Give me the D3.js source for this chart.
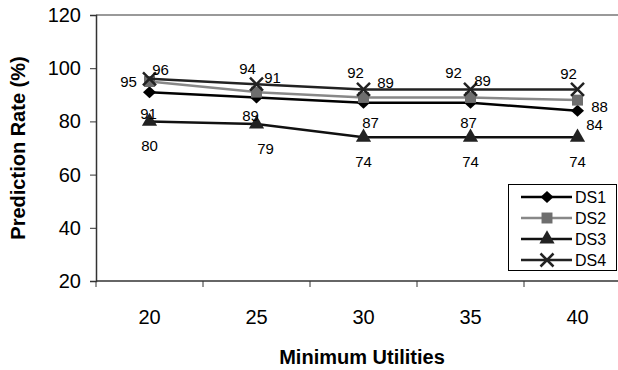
<!DOCTYPE html>
<html lang="en">
<head>
    <meta charset="UTF-8">
    <title>Prediction Rate vs Minimum Utilities</title>
    <script src="https://d3js.org/d3.v7.min.js"></script>
    <style>
        body {
            margin: 0;
            background: #fff;
            font-family: Arial, "Liberation Sans", sans-serif;
        }
        text {
            font-family: Arial, "Liberation Sans", sans-serif;
            fill: #000;
        }
        .tick-label { font-size: 20px; }
        .axis-title { font-size: 20px; font-weight: bold; }
        .data-label { font-size: 15px; }
        .legend-label { font-size: 16px; }
    </style>
</head>
<body>
    <svg width="618" height="370"></svg>

    <script>
        // data
        var categories = ["20", "25", "30", "35", "40"];
        var seriesNames = ["DS1", "DS2", "DS3", "DS4"];
        var ds1 = [91, 89, 87, 87, 84];
        var ds2 = [95, 91, 89, 89, 88];
        var ds3 = [80, 79, 74, 74, 74];
        var ds4 = [96, 94, 92, 92, 92];
        var yTicks = [20, 40, 60, 80, 100, 120];

        // styling per series
        var styles = {
            DS1: { line: "#000", fill: "#000", symbol: "diamond" },
            DS2: { line: "#888", fill: "#6e6e6e", symbol: "square" },
            DS3: { line: "#111", fill: "#222", symbol: "triangle" },
            DS4: { line: "#222", fill: "#222", symbol: "cross" }
        };

        // label offsets (dx, dy) around each point, the way the original was laid out
        var labelOffsets = {
            DS1: [[-1, 21], [-6, 18], [7, 20], [-2, 20], [17, 14]],
            DS2: [[-21, 0], [16, -15], [22, -15], [12, -17], [22, 6]],
            DS3: [[0, 24], [9, 24], [0, 24], [0, 24], [0, 24]],
            DS4: [[11, -9], [-9, -16], [-8, -17], [-17, -17], [-9, -16]]
        };

        var series = [
            { name: "DS1", values: ds1 },
            { name: "DS2", values: ds2 },
            { name: "DS3", values: ds3 },
            { name: "DS4", values: ds4 }
        ];

        var svg = d3.select("svg");
        var plotLeft = 96, plotTop = 15, plotBottom = 281, plotRight = 631;

        var x = d3.scaleBand().domain(categories).range([plotLeft, plotRight]);
        var y = d3.scaleLinear().domain([20, 120]).range([plotBottom, plotTop]);

        // top border of plot area
        svg.append("line")
            .attr("x1", plotLeft).attr("x2", plotRight)
            .attr("y1", plotTop).attr("y2", plotTop)
            .attr("stroke", "#999").attr("stroke-width", 2);

        // y axis
        var yAxis = svg.append("g")
            .attr("transform", "translate(" + plotLeft + ",0)")
            .call(d3.axisLeft(y).tickValues(yTicks).tickSize(6).tickPadding(9));
        yAxis.select(".domain").attr("stroke", "#333").attr("stroke-width", 1.5);
        yAxis.selectAll(".tick line").attr("stroke", "#333");
        yAxis.selectAll(".tick text").attr("class", "tick-label").attr("font-family", null).attr("font-size", null);

        // x axis with ticks at category boundaries
        svg.append("line")
            .attr("x1", plotLeft).attr("x2", plotRight)
            .attr("y1", plotBottom).attr("y2", plotBottom)
            .attr("stroke", "#333").attr("stroke-width", 1.5);
        svg.append("g").selectAll("line")
            .data(categories.concat(["end"]))
            .enter().append("line")
            .attr("x1", function(d, i) { return plotLeft + i * x.step(); })
            .attr("x2", function(d, i) { return plotLeft + i * x.step(); })
            .attr("y1", plotBottom).attr("y2", plotBottom + 6)
            .attr("stroke", "#333");
        svg.append("g").selectAll("text")
            .data(categories)
            .enter().append("text")
            .attr("class", "tick-label")
            .attr("x", function(d) { return x(d) + x.bandwidth() / 2; })
            .attr("y", 324)
            .attr("text-anchor", "middle")
            .text(function(d) { return d; });

        // axis titles
        svg.append("text")
            .attr("class", "axis-title")
            .attr("text-anchor", "middle")
            .attr("transform", "translate(25,148) rotate(-90)")
            .text("Prediction Rate (%)");
        svg.append("text")
            .attr("class", "axis-title")
            .attr("text-anchor", "middle")
            .attr("x", 362).attr("y", 364)
            .text("Minimum Utilities");

        function cx(i) { return x(categories[i]) + x.bandwidth() / 2; }

        function markerPath(type) {
            if (type === "diamond") return "M0,-6L6.5,0L0,6L-6.5,0Z";
            if (type === "square") return d3.symbol().type(d3.symbolSquare).size(120)();
            if (type === "triangle") return d3.symbol().type(d3.symbolTriangle).size(100)();
            return d3.symbol().type(d3.symbolCross).size(120)();
        }

        function drawMarker(g, name, px, py) {
            var st = styles[name];
            if (st.symbol === "cross") {
                var s = 6.5;
                g.append("path")
                    .attr("d", "M" + (px - s) + "," + (py - s) + "L" + (px + s) + "," + (py + s) +
                               "M" + (px - s) + "," + (py + s) + "L" + (px + s) + "," + (py - s))
                    .attr("stroke", st.fill).attr("stroke-width", 2.5).attr("fill", "none");
            } else {
                g.append("path")
                    .attr("d", markerPath(st.symbol))
                    .attr("transform", "translate(" + px + "," + py + ")")
                    .attr("fill", st.fill);
            }
        }

        var line = d3.line()
            .x(function(d, i) { return cx(i); })
            .y(function(d) { return y(d); });

        // series lines and markers
        series.forEach(function(s) {
            var g = svg.append("g");
            g.append("path")
                .datum(s.values)
                .attr("d", line)
                .attr("fill", "none")
                .attr("stroke", styles[s.name].line)
                .attr("stroke-width", 2.5);
            s.values.forEach(function(v, i) {
                drawMarker(g, s.name, cx(i), y(v));
            });
        });

        // data labels
        series.forEach(function(s) {
            svg.append("g").selectAll("text")
                .data(s.values)
                .enter().append("text")
                .attr("class", "data-label")
                .attr("text-anchor", "middle")
                .attr("dominant-baseline", "central")
                .attr("x", function(d, i) { return cx(i) + labelOffsets[s.name][i][0]; })
                .attr("y", function(d, i) { return y(d) + labelOffsets[s.name][i][1]; })
                .text(function(d) { return d; });
        });

        // legend
        var legend = svg.append("g");
        legend.append("rect")
            .attr("x", 508.5).attr("y", 184.5)
            .attr("width", 108).attr("height", 86)
            .attr("fill", "#fff").attr("stroke", "#000").attr("stroke-width", 1);
        seriesNames.forEach(function(name, i) {
            var ly = 197 + i * 21;
            legend.append("line")
                .attr("x1", 521).attr("x2", 572)
                .attr("y1", ly).attr("y2", ly)
                .attr("stroke", styles[name].line).attr("stroke-width", 2.5);
            drawMarker(legend, name, 547, ly);
            legend.append("text")
                .attr("class", "legend-label")
                .attr("x", 575).attr("y", ly)
                .attr("dominant-baseline", "central")
                .text(name);
        });
    </script>
</body>
</html>
